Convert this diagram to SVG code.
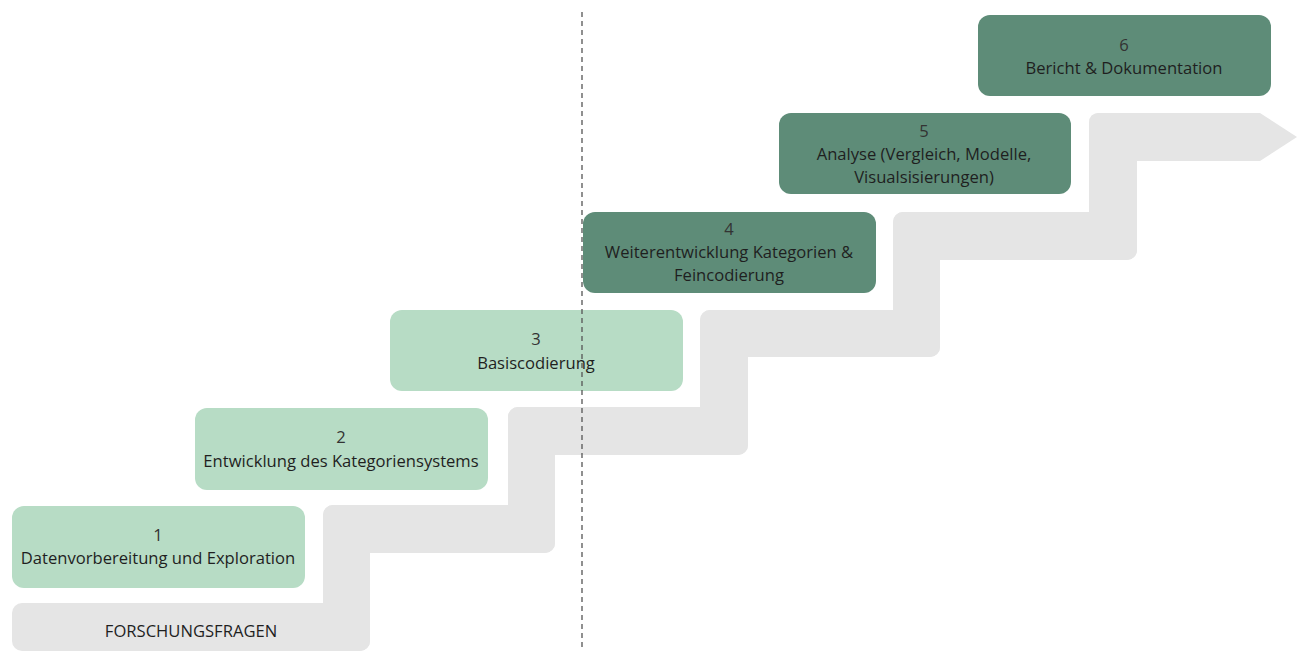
<svg xmlns="http://www.w3.org/2000/svg" width="1297" height="651" viewBox="0 0 1297 651">
  <style>
    .stair { fill: #e5e5e5; }
    .light rect { fill: #b7dcc5; }
    .dark rect { fill: #5e8c78; }
    text { font-family: "Open Sans", "Noto Sans", sans-serif; font-size: 16.6px; fill: #1f1f1f; text-anchor: middle; }
    .num { fill: #333; }
    .divider { stroke: #555; stroke-width: 1.3; stroke-dasharray: 5 4; fill: none; }
  </style>

  <!-- staircase arrow -->
  <g id="stairs">
    <rect class="stair" x="12" y="603" width="358" height="48" rx="10"/>
    <rect class="stair" x="323" y="505" width="47" height="146" rx="10"/>
    <rect class="stair" x="323" y="505" width="232" height="48" rx="10"/>
    <rect class="stair" x="508" y="407" width="47" height="146" rx="10"/>
    <rect class="stair" x="508" y="407" width="240" height="48" rx="10"/>
    <rect class="stair" x="700" y="310" width="48" height="145" rx="10"/>
    <rect class="stair" x="700" y="310" width="240" height="47" rx="10"/>
    <rect class="stair" x="893" y="212" width="47" height="145" rx="10"/>
    <rect class="stair" x="893" y="212" width="244" height="48" rx="10"/>
    <rect class="stair" x="1089" y="113" width="48" height="147" rx="10"/>
    <path class="stair" d="M1099 113 H1260 L1297 137 L1260 161 H1089 V123 Q1089 113 1099 113 Z"/>
    <text x="191" y="637">FORSCHUNGSFRAGEN</text>
  </g>

  <g id="step1" class="light">
    <rect x="12" y="506" width="293" height="82" rx="12"/>
    <text class="num" x="158" y="541">1</text>
    <text x="158" y="564">Datenvorbereitung und Exploration</text>
  </g>
  <g id="step2" class="light">
    <rect x="195" y="408" width="293" height="82" rx="12"/>
    <text class="num" x="341" y="443">2</text>
    <text x="341" y="467">Entwicklung des Kategoriensystems</text>
  </g>
  <g id="step3" class="light">
    <rect x="390" y="310" width="293" height="81" rx="12"/>
    <text class="num" x="536" y="345">3</text>
    <text x="536" y="369">Basiscodierung</text>
  </g>
  <g id="step4" class="dark">
    <rect x="583" y="212" width="293" height="81" rx="12"/>
    <text class="num" x="729" y="235">4</text>
    <text x="729" y="258">Weiterentwicklung Kategorien &amp;</text>
    <text x="729" y="281">Feincodierung</text>
  </g>
  <g id="step5" class="dark">
    <rect x="779" y="113" width="292" height="81" rx="12"/>
    <text class="num" x="924" y="137">5</text>
    <text x="924" y="160">Analyse (Vergleich, Modelle,</text>
    <text x="924" y="183">Visualsisierungen)</text>
  </g>
  <g id="step6" class="dark">
    <rect x="978" y="15" width="293" height="81" rx="12"/>
    <text class="num" x="1124" y="51">6</text>
    <text x="1124" y="74">Bericht &amp; Dokumentation</text>
  </g>

  <g id="connectors">
    <line class="divider" x1="582" y1="12" x2="582" y2="651"/>
  </g>
</svg>
